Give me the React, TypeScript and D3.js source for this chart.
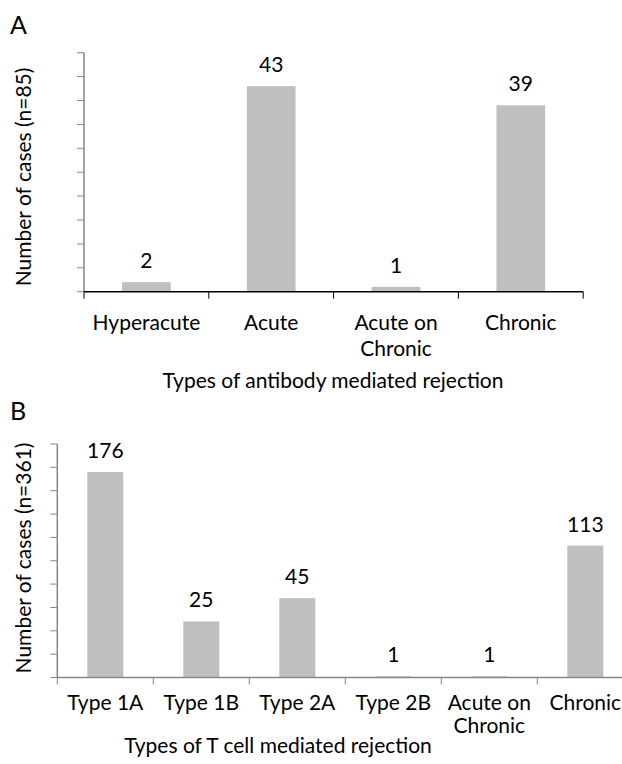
import React from "react";
import * as d3 from "d3";

const catsA = ["Hyperacute", "Acute", "Acute on\nChronic", "Chronic"];
const barsA = [2, 43, 1, 39];
const labelsA = ["2", "43", "1", "39"];
const catsB = ["Type 1A", "Type 1B", "Type 2A", "Type 2B", "Acute on\nChronic", "Chronic"];
// bar heights as drawn in the picture (read against the axis), and the printed labels
const barsB = [176, 48, 68, 1, 1, 113];
const labelsB = ["176", "25", "45", "1", "1", "113"];
const yTicksA = d3.range(0, 51, 5);
const yTicksB = d3.range(0, 201, 20);

const FONT = "Lato, 'Open Sans', sans-serif";
const FS = 21;
const BAR = "#bfbfbf";
const GRAY = "#868686";

function Panel({ cats, vals, labels, yTicks, yMax, x0, x1, yTop, yBase, barFrac, xAxisColor, yTitle, xTitle, xTitleCx, letter, letterY, lineGap, labelBase, titleBase, yTitleCx, yTitleCy }: any) {
  const x = d3.scaleBand<string>().domain(cats).range([x0, x1]).paddingInner(1 - barFrac).paddingOuter((1 - barFrac) / 2);
  const step = x.step();
  const y = d3.scaleLinear().domain([0, yMax]).range([yBase, yTop]);
  const bounds = d3.range(cats.length + 1).map((i) => x0 + i * step);
  return (
    <g>
      <text x={10} y={letterY} fontFamily={FONT} fontSize={25} fill="#000">{letter}</text>
      {cats.map((c: string, i: number) => (
        <rect key={c} x={x(c)} y={y(vals[i])} width={x.bandwidth()} height={yBase - y(vals[i])} fill={BAR} />
      ))}
      {cats.map((c: string, i: number) => (
        <text key={"v" + c} x={(x(c) as number) + x.bandwidth() / 2} y={y(vals[i]) - 14} textAnchor="middle" fontFamily={FONT} fontSize={FS} fill="#000">{labels[i]}</text>
      ))}
      <line x1={x0} x2={x0} y1={yTop} y2={yBase} stroke={GRAY} strokeWidth={1.5} />
      {yTicks.map((t: number) => (
        <line key={"t" + t} x1={x0 - 7} x2={x0} y1={y(t)} y2={y(t)} stroke={GRAY} strokeWidth={1} />
      ))}
      <line x1={x0} x2={x1} y1={yBase} y2={yBase} stroke={xAxisColor} strokeWidth={1.5} />
      {bounds.map((b: number, i: number) => (
        <line key={"b" + i} x1={b} x2={b} y1={yBase} y2={yBase + 7} stroke={xAxisColor} strokeWidth={1} />
      ))}
      {cats.map((c: string) => (
        <text key={"l" + c} textAnchor="middle" fontFamily={FONT} fontSize={FS} fill="#000">
          {c.split("\n").map((ln, j) => (
            <tspan key={j} x={(x(c) as number) + x.bandwidth() / 2} y={labelBase + j * lineGap}>{ln}</tspan>
          ))}
        </text>
      ))}
      <text x={xTitleCx} y={titleBase} textAnchor="middle" fontFamily={FONT} fontSize={FS} fill="#000">{xTitle}</text>
      <text transform={`translate(${yTitleCx},${yTitleCy}) rotate(-90)`} textAnchor="middle" fontFamily={FONT} fontSize={FS} fill="#000">{yTitle}</text>
    </g>
  );
}

export default function App() {
  return (
    <svg width={622} height={764} style={{ position: "absolute", left: 0, top: 0, background: "#fff" }}>
      <rect width={622} height={764} fill="#fff" />
      <Panel cats={catsA} vals={barsA} labels={labelsA} yTicks={yTicksA} yMax={50} x0={84} x1={583.2} yTop={52.7} yBase={291.7} barFrac={0.39} xAxisColor="#000" yTitle="Number of cases (n=85)" xTitle="Types of antibody mediated rejection" xTitleCx={333} letter="A" letterY={34} lineGap={26} labelBase={330} titleBase={388} yTitleCx={31} yTitleCy={177} />
      <Panel cats={catsB} vals={barsB} labels={labelsB} yTicks={yTicksB} yMax={200} x0={57.3} x1={633.3} yTop={444} yBase={677.5} barFrac={0.375} xAxisColor={GRAY} yTitle="Number of cases (n=361)" xTitle="Types of T cell mediated rejection" xTitleCx={278} letter="B" letterY={420} lineGap={23} labelBase={710} titleBase={753} yTitleCx={31} yTitleCy={558} />
    </svg>
  );
}
